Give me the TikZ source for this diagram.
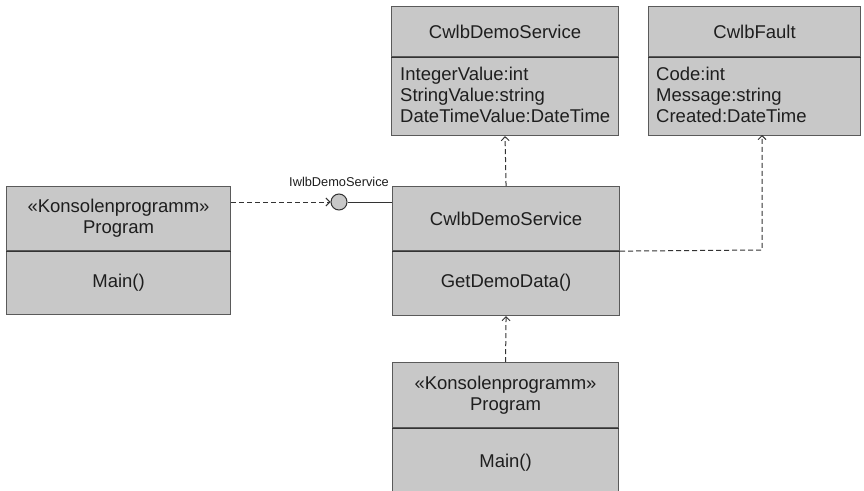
\documentclass[tikz,border=0pt]{standalone}
\usepackage{fontspec}
\setmainfont{Liberation Sans}
\usetikzlibrary{arrows.meta}
\definecolor{boxfill}{HTML}{C8C8C8}
\definecolor{boxline}{HTML}{5A5A5A}
\definecolor{txt}{HTML}{1E1E1E}
\tikzset{
  x=1pt, y=-1pt,
  part/.style={draw=boxline, fill=boxfill, line width=1.1pt, rectangle, anchor=north west, inner sep=0pt, text=txt, align=center, font=\fontsize{18.5}{21}\selectfont},
  divider/.style={draw=black!80, line width=1.1pt},
  attr/.style={anchor=north west, inner sep=0pt, text=txt, align=left, font=\fontsize{18.5}{21}\selectfont},
  dep/.style={draw=black!80, line width=1pt, dash pattern=on 5pt off 3pt, -{Straight Barb[length=4pt,width=8pt,line width=0.9pt]}},
  iface/.style={circle, draw=black!80, fill=boxfill, line width=1pt, minimum size=16pt, inner sep=0pt},
  small/.style={font=\fontsize{12.8}{14}\selectfont, text=txt, inner sep=0pt}
}
\begin{document}
\begin{tikzpicture}
\path[use as bounding box, clip] (0,0) rectangle (864,490);
\fill[white] (0,0) rectangle (864,490);
% top CwlbDemoService data class
\node[part, minimum width=227pt, minimum height=50pt] (dsh) at (391,6) {CwlbDemoService};
\node[part, minimum width=227pt, minimum height=79pt] (dsb) at (391,56) {};
\node[attr] (dsa) at (400,67) {IntegerValue:int\\StringValue:string\\DateTimeValue:DateTime};
\draw[divider] (dsh.south west) -- (dsh.south east);
% CwlbFault
\node[part, minimum width=212pt, minimum height=50pt] (fh) at (648,6) {CwlbFault};
\node[part, minimum width=212pt, minimum height=79pt] (fb) at (648,56) {};
\node[attr] (fa) at (656,67) {Code:int\\Message:string\\Created:DateTime};
\draw[divider] (fh.south west) -- (fh.south east);
% left Program
\node[part, minimum width=224pt, minimum height=64pt] (lph) at (6,186) {«Konsolenprogramm»\\Program};
\node[part, minimum width=224pt, minimum height=64pt] (lpb) at (6,250) {Main()};
\draw[divider] (lph.south west) -- (lph.south east);
% center service
\node[part, minimum width=227pt, minimum height=64pt] (csh) at (392,186) {CwlbDemoService};
\node[part, minimum width=227pt, minimum height=65pt] (csb) at (392,250) {GetDemoData()};
\draw[divider] (csh.south west) -- (csh.south east);
% bottom Program
\node[part, minimum width=226pt, minimum height=65pt] (bph) at (392,362) {«Konsolenprogramm»\\Program};
\node[part, minimum width=226pt, minimum height=70pt] (bpb) at (392,427) {Main()};
\draw[divider] (bph.south west) -- (bph.south east);
% interface lollipop
\node[iface] (ifc) at (339,202) {};
\node[small, anchor=south] (ifl) at (339,187) {IwlbDemoService};
\draw[black!80, line width=1pt] (ifc.east) -- (ifc -| csh.west);
\coordinate (lpout) at (lph.north east |- ifc);
\draw[dep] (lpout) -- (ifc.west);
% dependencies
\draw[dep] (csh.north) -- (dsb.south);
\draw[dep] (bph.north) -- (csb.south);
\coordinate (fcorner) at (762,250);
\coordinate (ftarget) at (762,135);
\draw[dep] (csh.south east) -- (fcorner) -- (ftarget);
\end{tikzpicture}
\end{document}
